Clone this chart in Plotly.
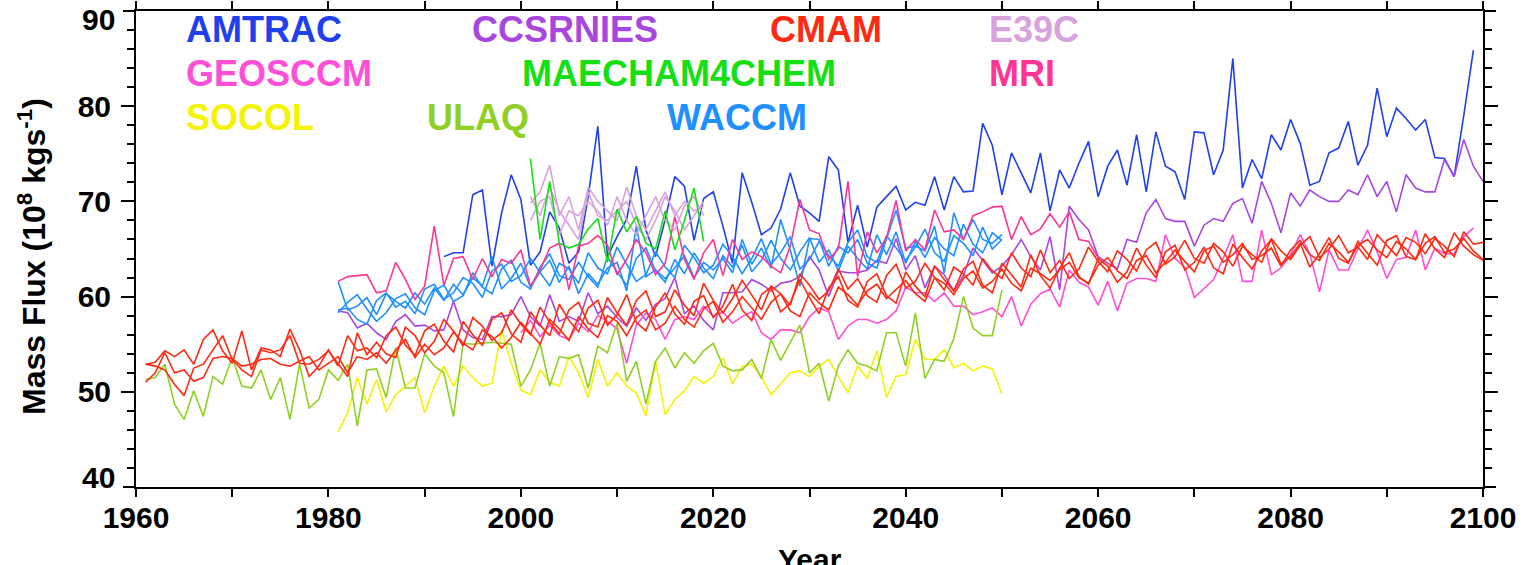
import plotly.graph_objects as go

# ---------------- data: annual mean mass flux (10^8 kg/s) ----------------
AMTRAC_START = 1992
amtrac = [64.2, 64.6, 64.6, 70.7, 71.2, 63.2, 68.8, 72.8, 70.2, 63.3,
          64.7, 68.9, 67.2, 63.5, 64.7, 70.5, 77.9, 64.2, 66.3, 68.1,
          73.7, 67.0, 64.2, 68.1, 72.6, 71.6, 65.9, 70.3, 71.0, 67.4,
          63.5, 73.0, 69.9, 66.5, 67.2, 69.2, 73.0, 69.5, 68.8, 67.9,
          74.7, 73.3, 65.7, 69.6, 65.2, 69.4, 70.5, 71.6, 69.1, 69.9,
          69.6, 72.6, 69.1, 72.6, 71.0, 71.1, 78.2, 75.9, 70.7, 75.1,
          73.0, 70.9, 75.1, 69.0, 73.3, 71.4, 74.0, 76.3, 70.5, 73.7,
          75.4, 71.7, 77.0, 71.0, 77.3, 73.7, 73.1, 70.2, 77.3, 77.2,
          72.8, 75.4, 85.0, 71.4, 74.4, 72.4, 77.0, 75.4, 78.6, 76.1,
          71.7, 72.1, 75.1, 75.6, 78.4, 73.8, 75.9, 81.9, 76.8, 79.8,
          78.7, 77.5, 78.6, 74.6, 74.5, 72.6, 79.0, 85.9]

CCSRNIES_START = 1981
ccsrnies = [58.5, 58.3, 56.7, 57.2, 56.2, 55.5, 57.4, 58.1, 56.9, 57.0,
            56.4, 56.5, 59.5, 56.5, 55.7, 55.5, 57.9, 57.9, 58.1, 60.0,
            57.9, 56.9, 60.2, 57.4, 57.9, 57.4, 60.4, 58.2, 59.0, 57.8,
            56.9, 58.8, 57.5, 59.2, 59.8, 62.0, 58.2, 59.0, 57.5, 56.5,
            60.4, 60.4, 60.5, 61.8, 61.3, 60.6, 61.4, 61.6, 62.1, 64.2,
            62.8, 60.0, 62.7, 62.5, 62.5, 62.8, 63.8, 63.5, 66.1, 62.8,
            64.3, 60.9, 63.2, 62.3, 60.6, 62.2, 65.1, 63.8, 62.5, 63.2,
            64.4, 66.0, 64.2, 62.8, 66.3, 60.7, 69.5, 68.1, 67.0, 64.2,
            63.5, 62.9, 66.0, 65.7, 68.8, 70.2, 68.2, 67.9, 67.9, 65.3,
            67.5, 68.2, 67.9, 69.8, 70.3, 67.7, 72.1, 69.8, 66.7, 70.9,
            69.5, 71.2, 70.5, 70.0, 70.0, 71.2, 70.7, 72.8, 70.5, 72.1,
            68.9, 72.8, 71.4, 71.0, 71.0, 74.4, 72.6, 76.5, 73.7, 72.1]

CMAM_START = 1961
cmam_run1 = [52.9, 53.1, 54.3, 53.7, 54.4, 52.9, 55.5, 56.5, 54.3, 53.0,
             56.4, 52.3, 54.6, 54.4, 53.7, 56.6, 54.4, 51.6, 52.7, 54.4,
             52.7, 55.9, 54.3, 54.6,
             53.6, 55.9, 56.8, 54.9, 53.8, 56.4, 57.1, 55.3, 54.2, 57.4,
             56.0, 54.9, 57.6, 58.3, 56.1, 55.2, 58.4, 57.0, 55.9, 59.2,
             57.5, 56.3, 58.8, 59.6, 57.0, 58.1, 60.2, 57.3, 56.4, 58.9,
             60.4, 58.2, 57.1, 59.5, 60.1, 57.8, 59.0, 61.3, 58.6, 57.5,
             60.2, 61.0, 58.4, 59.3, 61.8, 59.9, 58.2, 60.9, 62.1, 59.6,
             58.9, 61.6, 62.4, 60.1, 59.3, 62.6, 61.1, 60.0, 63.2, 61.8,
             60.6, 62.9, 63.7, 61.2, 60.4, 63.5, 62.3, 61.0, 64.4, 62.2,
             60.9, 63.0, 64.6, 62.1, 61.3, 64.0, 63.2, 61.5, 62.6, 65.1,
             63.3, 62.0, 64.7, 65.4, 62.8, 63.6, 65.2, 63.0, 62.4, 65.5,
             64.1, 62.9, 64.8, 66.0, 63.4, 64.2, 65.6, 63.1, 64.5, 66.2,
             64.0, 63.5, 65.8, 64.6, 63.3, 65.9, 66.4, 64.2, 63.9, 66.6,
             65.0, 64.1, 66.7, 65.3, 64.4, 63.8]
cmam_run2 = [52.9, 52.7, 52.3, 50.8, 49.6, 52.5, 52.9, 54.4, 55.9, 53.4,
             52.3, 51.6, 54.4, 54.1, 54.4, 55.9, 53.0, 52.9, 53.4, 54.3,
             53.0, 51.6, 56.2, 53.9,
             55.2, 54.0, 53.6, 56.8, 55.9, 54.1, 55.3, 57.6, 56.4, 54.8,
             57.8, 56.9, 55.4, 56.2, 58.6, 57.1, 56.0, 58.9, 57.3, 56.1,
             58.6, 59.4, 57.2, 56.8, 59.9, 58.3, 57.0, 59.6, 60.6, 57.9,
             58.4, 60.7, 59.1, 58.0, 61.4, 59.6, 58.3, 59.8, 61.7, 60.2,
             58.6, 61.1, 60.3, 59.1, 62.4, 61.2, 59.7, 60.6, 62.9, 60.8,
             61.9, 60.1, 59.4, 62.2, 63.4, 60.9, 61.6, 63.5, 62.0, 60.7,
             63.1, 62.4, 61.2, 64.0, 62.7, 61.9, 64.6, 63.0, 62.1, 64.9,
             62.5, 63.8, 61.9, 62.9, 65.2, 63.7, 62.6, 64.8, 63.9, 62.7,
             64.9, 65.7, 63.4, 64.2, 65.9, 64.0, 63.5, 65.6, 64.7, 63.2,
             65.3, 64.4, 63.6, 66.1, 64.8, 63.9, 65.4, 66.3, 64.1, 65.0,
             66.4, 64.6, 65.2, 63.9, 66.5, 65.4, 64.3, 66.2, 65.7, 64.5,
             66.1, 65.3, 64.2, 66.8, 65.5, 65.7]
cmam_run3 = [51.0, 52.0, 54.1, 52.0, 52.3, 51.1, 51.5, 53.5, 53.7, 53.5,
             52.7, 52.9, 53.4, 53.5, 52.9, 52.7, 53.2, 53.7, 52.3, 53.0,
             53.7, 52.0, 53.7, 53.4,
             54.1, 53.0, 54.4, 55.5, 53.6, 55.0, 53.9, 54.6, 56.3, 55.1,
             54.4, 56.5, 55.8, 54.6, 55.7, 57.3, 56.2, 55.0, 57.6, 56.6,
             55.4, 57.9, 56.6, 55.7, 58.0, 57.4, 55.9, 57.8, 58.6, 56.5,
             57.2, 59.0, 57.6, 56.8, 58.7, 59.5, 57.3, 58.4, 60.0, 58.8,
             57.6, 59.4, 60.3, 58.5, 57.9, 60.4, 59.3, 58.6, 61.0, 60.2,
             59.1, 60.6, 61.3, 59.8, 60.8, 61.7, 60.3, 59.5, 62.0, 61.4,
             60.2, 61.9, 62.7, 60.9, 61.6, 62.9, 61.4, 60.6, 63.0, 62.4,
             61.7, 62.8, 63.6, 62.0, 61.4, 63.3, 64.1, 62.7, 61.9, 63.8,
             64.3, 62.5, 63.6, 64.9, 63.7, 62.6, 64.8, 65.3, 63.6, 64.4,
             65.6, 63.9, 64.3, 65.1, 63.2, 64.9, 65.9, 64.4, 63.8, 65.6,
             64.7, 63.6, 65.4, 66.0, 64.9, 64.1, 65.8, 65.0, 63.9, 65.6,
             66.3, 64.6, 65.0, 66.1, 64.8, 63.9]

E39C_START = 2001
e39c_run1 = [69.8, 71.0, 73.8, 68.5, 70.5, 67.0, 71.5, 70.0, 69.0, 68.0,
             71.5, 68.5, 67.0, 69.0, 71.0, 68.5, 70.0, 69.0, 69.5]
e39c_run2 = [68.0, 70.0, 70.5, 66.5, 69.0, 68.5, 70.0, 69.0, 67.5, 70.5,
             68.0, 66.5, 68.5, 70.5, 68.0, 67.0, 69.5, 70.5, 68.5]
e39c_run3 = [70.5, 68.5, 71.5, 69.0, 67.5, 66.0, 71.0, 68.5, 68.0, 69.0,
             70.0, 67.5, 66.0, 68.0, 70.5, 69.0, 67.0, 68.5, 70.0]

GEOSCCM_START = 2000
geosccm = [56.2, 57.5, 55.8, 57.0, 55.9, 55.5, 57.2, 56.3, 58.0, 57.4,
           56.6, 53.0, 57.0, 58.3, 57.6, 55.5, 57.6, 57.9, 57.6, 59.0,
           57.9, 58.4, 57.2, 57.9, 58.4, 56.2, 55.5, 56.5, 56.5, 56.2,
           57.9, 58.8, 58.4, 55.5, 56.9, 57.6, 57.6, 57.2, 57.6, 58.5,
           61.0, 60.4, 60.4, 59.5, 60.4, 59.0, 59.0, 58.1, 58.4, 58.8,
           57.9, 60.0, 56.9, 59.2, 60.3, 60.8, 58.9, 62.8, 61.5, 61.0,
           59.1, 61.6, 58.5, 61.4, 61.9, 61.9, 61.6, 66.5, 64.0, 63.1,
           59.9, 60.9, 61.8, 64.0, 66.5, 61.6, 61.6, 67.0, 62.3, 63.0,
           64.4, 66.5, 64.5, 60.5, 64.9, 62.8, 62.8, 65.0, 67.0, 64.7,
           61.9, 63.9, 64.1, 67.0, 62.8, 65.1, 64.5, 64.5, 66.3, 67.2]

MAECHAM4CHEM_START = 2001
maecham4chem = [74.5, 66.0, 72.1, 65.6, 65.1, 65.5, 67.1, 68.2, 63.6, 69.2,
                66.8, 68.4, 65.6, 65.0, 69.0, 64.9, 68.0, 71.4, 65.8]

MRI_START = 1981
mri = [61.6, 62.1, 62.2, 62.3, 60.4, 60.6, 63.6, 61.8, 59.7, 61.1,
       67.4, 61.2, 64.0, 64.2, 61.8, 64.0, 62.1, 63.9, 63.5, 64.9,
       61.1, 62.8, 65.1, 65.6, 60.7, 65.3, 65.6, 66.4, 65.4, 62.3,
       63.9, 66.0, 64.6, 62.3, 63.5, 68.4, 63.9, 61.8, 64.6, 66.0,
       62.2, 66.0, 63.9, 64.7, 64.2, 63.2, 62.5, 65.3, 70.2, 67.0,
       66.6, 63.9, 65.0, 72.1, 62.1, 66.8, 64.6, 66.2, 70.1, 64.8,
       66.0, 64.9, 69.1, 66.8, 67.0, 66.0, 68.5, 68.9, 69.4, 69.5,
       66.0, 68.4, 66.5, 67.1, 68.7, 67.3, 68.9, 66.0, 65.8, 64.1]

SOCOL_START = 1981
socol = [45.8, 47.8, 51.5, 48.7, 51.3, 47.9, 49.7, 50.6, 51.5, 47.8,
         50.6, 52.7, 50.6, 52.7, 51.5, 50.6, 50.9, 56.5, 53.0, 50.2,
         49.7, 52.3, 51.0, 50.6, 53.7, 52.0, 49.4, 53.4, 50.6, 52.0,
         50.6, 49.9, 47.5, 53.2, 47.6, 49.2, 50.1, 51.6, 50.9, 51.6,
         53.6, 50.8, 52.7, 52.9, 51.6, 49.7, 50.9, 52.0, 52.2, 51.6,
         52.7, 53.4, 51.6, 49.9, 52.7, 51.4, 54.3, 49.4, 51.6, 51.8,
         55.5, 53.4, 53.4, 54.4, 52.5, 53.0, 52.2, 52.7, 52.4, 49.8]

ULAQ_START = 1961
ulaq = [51.3, 51.5, 52.9, 48.7, 47.1, 50.1, 47.4, 51.6, 50.8, 53.6,
        50.6, 50.4, 52.3, 49.2, 51.5, 47.1, 52.9, 48.3, 49.2, 52.3,
        51.2, 52.9, 46.4, 52.3, 52.4, 49.4, 54.6, 50.4, 50.4, 54.0,
        52.7, 52.0, 47.4, 55.1, 55.0, 55.1, 55.2, 55.1, 55.0, 50.6,
        52.3, 55.1, 50.6, 53.7, 53.5, 53.9, 50.4, 54.8, 54.1, 57.2,
        51.1, 53.2, 48.7, 53.2, 54.6, 52.5, 54.1, 53.0, 54.3, 55.1,
        52.7, 52.2, 52.3, 53.4, 51.4, 55.5, 53.3, 55.2, 57.0, 52.0,
        53.0, 49.0, 52.7, 54.4, 53.0, 52.7, 52.2, 56.2, 56.2, 52.7,
        58.3, 51.4, 53.4, 53.2, 55.6, 60.0, 56.7, 55.9, 55.9, 60.7]

WACCM_START = 1981
waccm_run1 = [61.6, 58.6, 59.0, 59.9, 58.1, 60.3, 59.5, 58.8, 60.4, 59.2,
              60.9, 59.6, 61.3, 60.2, 62.0, 61.1, 64.2, 60.8, 61.9, 63.5,
              61.0, 62.6, 63.8, 61.5, 63.2, 60.3, 62.4, 61.3, 63.0, 63.6,
              60.6, 67.4, 62.1, 62.8, 61.9, 63.0, 64.3, 62.0, 63.6, 62.8,
              64.0, 62.5, 66.0, 63.4, 65.1, 63.0, 68.1, 64.9, 61.1, 66.1,
              66.0, 63.2, 65.3, 64.6, 66.0, 63.5, 63.0, 66.0, 69.1, 65.1,
              65.3, 64.8, 67.4, 62.5, 68.8, 66.0, 68.1, 66.0, 65.6, 66.5]
waccm_run2 = [58.6, 58.8, 57.6, 57.1, 59.6, 60.4, 58.9, 59.5, 58.2, 60.8,
              61.3, 59.7, 60.4, 62.0, 61.4, 59.9, 62.7, 63.4, 61.6, 62.2,
              64.0, 62.6, 61.1, 63.5, 62.9, 61.4, 64.6, 63.0, 62.4, 65.2,
              63.4, 61.6, 62.3, 64.7, 63.1, 62.0, 65.4, 64.1, 62.5, 63.3,
              65.5, 64.2, 62.4, 64.0, 66.1, 63.4, 64.6, 66.3, 62.9, 63.9,
              65.8, 64.3, 63.2, 65.7, 67.0, 64.2, 63.6, 66.4, 65.1, 63.8,
              65.2, 67.1, 64.6, 63.7, 66.4, 65.6, 64.3, 67.3, 65.0, 66.0]
waccm_run3 = [58.3, 59.4, 60.2, 58.7, 57.4, 58.3, 59.8, 60.3, 58.8, 58.1,
              60.6, 61.2, 59.5, 60.1, 62.5, 61.0, 60.3, 62.9, 63.8, 61.5,
              60.8, 63.1, 64.5, 62.2, 61.8, 63.6, 62.1, 61.0, 64.2, 62.6,
              61.2, 64.0, 65.1, 62.7, 61.5, 63.9, 62.4, 64.6, 63.0, 61.9,
              64.3, 63.1, 65.4, 62.6, 63.8, 65.9, 64.0, 62.8, 64.7, 66.2,
              63.6, 64.9, 62.7, 65.3, 64.0, 62.9, 66.5, 64.4, 66.8, 63.5,
              65.8, 64.1, 66.2, 65.0, 64.3, 67.6, 65.5, 64.6, 66.7, 65.9]

# model name, colour, start year, runs
models = [
    ("AMTRAC", "#2040f0", AMTRAC_START, [amtrac]),
    ("CCSRNIES", "#a846e0", CCSRNIES_START, [ccsrnies]),
    ("WACCM", "#1e90ff", WACCM_START, [waccm_run1, waccm_run2, waccm_run3]),
    ("MRI", "#ff3494", MRI_START, [mri]),
    ("E39C", "#d8a2dc", E39C_START, [e39c_run1, e39c_run2, e39c_run3]),
    ("MAECHAM4CHEM", "#14e014", MAECHAM4CHEM_START, [maecham4chem]),
    ("GEOSCCM", "#ff4fd6", GEOSCCM_START, [geosccm]),
    ("SOCOL", "#f4f400", SOCOL_START, [socol]),
    ("ULAQ", "#8fd024", ULAQ_START, [ulaq]),
    ("CMAM", "#ff2a12", CMAM_START, [cmam_run1, cmam_run2, cmam_run3]),
]

# label layout: (name, left edge px, row)
label_pos = [
    ("AMTRAC", 184, 0), ("CCSRNIES", 470, 0), ("CMAM", 768, 0), ("E39C", 987, 0),
    ("GEOSCCM", 184, 1), ("MAECHAM4CHEM", 520, 1), ("MRI", 987, 1),
    ("SOCOL", 184, 2), ("ULAQ", 425, 2), ("WACCM", 665, 2),
]
row_y = [30, 74, 117]

# y tick labels; the two end labels are nudged inside the frame
Y_LABELS_INNER = [50, 60, 70, 80]
Y_LABELS_END = [(90, 19), (40, 477)]   # (value, label centre px)

FONT = "Liberation Sans, Arial, Helvetica, sans-serif"
W, H = 1530, 565
L, R, T, B = 136, 47, 11, 78
PW, PH = W - L - R, H - T - B
TICK_FONT = dict(family=FONT, size=30, color="black", weight="bold")

fig = go.Figure()
colour_of = {}
for name, colour, start, runs in models:
    colour_of[name] = colour
    for run in runs:
        yrs = list(range(start, start + len(run)))
        fig.add_trace(go.Scatter(x=yrs, y=run, mode="lines",
                                 line=dict(color=colour, width=1.6),
                                 showlegend=False, hoverinfo="skip"))

annotations = []
for name, px, row in label_pos:
    annotations.append(dict(
        text=name, x=(px - L) / PW, y=(H - B - row_y[row]) / PH,
        xref="paper", yref="paper", xanchor="left", yanchor="middle",
        showarrow=False, font=dict(family=FONT, size=36, color=colour_of[name], weight="bold")))

for val, py in Y_LABELS_END:
    annotations.append(dict(
        text=str(val), x=(117 - L) / PW, y=(H - B - py) / PH,
        xref="paper", yref="paper", xanchor="right", yanchor="middle",
        showarrow=False, font=TICK_FONT))

annotations.append(dict(
    text="Mass Flux (10<sup>8</sup> kgs<sup>-1</sup>)", textangle=-90,
    x=(32 - L) / PW, y=(H - B - 257) / PH, xref="paper", yref="paper",
    xanchor="center", yanchor="middle", showarrow=False,
    font=dict(family=FONT, size=32, color="black", weight="bold")))
annotations.append(dict(
    text="Year", x=0.5, y=(H - B - 541) / PH, xref="paper", yref="paper",
    xanchor="center", yanchor="top", showarrow=False,
    font=dict(family=FONT, size=30, color="black", weight="bold")))

# long tick marks at the two ends of the y range, both sides
tick_w = 13 / PW
shapes = []
for yv in (0, 1):
    for x0, x1 in ((-tick_w, 0), (1, 1 + tick_w)):
        shapes.append(dict(type="line", xref="paper", yref="paper",
                           x0=x0, x1=x1, y0=yv, y1=yv,
                           line=dict(color="black", width=2)))

fig.update_layout(
    width=W, height=H, margin=dict(l=L, r=R, t=T, b=B, autoexpand=False),
    paper_bgcolor="white", plot_bgcolor="white",
    annotations=annotations, shapes=shapes,
    xaxis=dict(range=[1960, 2100], tick0=1960, dtick=20,
               ticks="outside", ticklen=8, tickwidth=2, tickcolor="black",
               showline=True, linewidth=2, linecolor="black", mirror="ticks",
               showgrid=False, zeroline=False, ticklabelstandoff=-5,
               ticklabeloverflow="allow",
               minor=dict(dtick=10, ticks="outside", ticklen=8, tickwidth=2,
                          tickcolor="black", showgrid=False),
               tickfont=TICK_FONT),
    yaxis=dict(range=[40, 90], tickvals=Y_LABELS_INNER,
               ticks="outside", ticklen=13, tickwidth=2, tickcolor="black",
               showline=True, linewidth=2, linecolor="black", mirror="ticks",
               showgrid=False, zeroline=False, ticklabelstandoff=4,
               minor=dict(tick0=40, dtick=2, ticks="outside", ticklen=7, tickwidth=1.5,
                          tickcolor="black", showgrid=False),
               tickfont=TICK_FONT),
)

fig.write_html("out.html")
